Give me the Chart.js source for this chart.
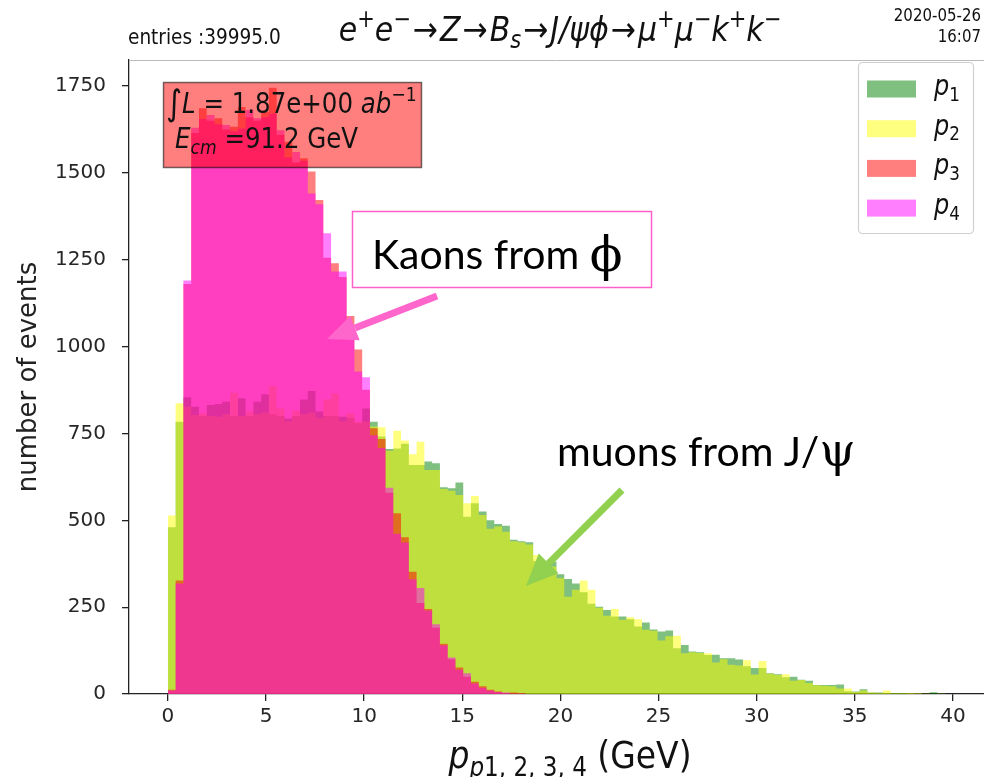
<!DOCTYPE html>
<html>
<head>
<meta charset="utf-8">
<title>Bs → J/ψ φ : impulsions</title>
<script src="https://cdn.jsdelivr.net/npm/chart.js@4.4.1/dist/chart.umd.min.js"></script>
<style>
  html, body { margin: 0; padding: 0; background: #fff; }
</style>
</head>
<body>
<canvas id="graphique" width="984" height="777"></canvas>
<script>
// ============================================================
//  Histogrammes p1..p4 (GeV) — 100 bins, largeur ~0.396 GeV
// ============================================================

/* ── Données ─────────────────────────────────────────────── */
const largeurBin = 0.396;

// muons (J/psi)
const p1 = [
  480, 784, 854, 827, 800, 832, 835, 841, 800, 851,
  800, 841, 863, 805, 800, 793, 800, 848, 872, 813,
  800, 800, 798, 795, 780, 822, 784, 741, 705, 707,
  720, 659, 659, 669, 664, 595, 592, 609, 510, 549,
  525, 500, 489, 484, 444, 440, 437, 383, 381, 381,
  345, 331, 318, 293, 260, 251, 242, 223, 223, 215,
  194, 206, 186, 180, 183, 132, 141, 122, 120, 112,
  113, 103, 103, 99, 80, 75, 75, 60, 57, 48,
  50, 41, 38, 26, 26, 26, 27, 8, 7, 14,
  4, 4, 3, 3, 3, 1, 1, 0, 5, 1
];
const p2 = [
  514, 837, 827, 803, 808, 800, 798, 805, 867, 800,
  813, 805, 810, 886, 822, 785, 815, 805, 810, 795,
  848, 865, 785, 808, 784, 784, 770, 768, 700, 758,
  730, 690, 726, 645, 645, 590, 585, 573, 549, 570,
  515, 476, 482, 467, 440, 437, 430, 400, 375, 367,
  333, 280, 300, 327, 300, 248, 225, 245, 214, 221,
  215, 185, 182, 154, 166, 168, 117, 120, 118, 117,
  91, 100, 84, 82, 97, 56, 95, 58, 55, 57,
  38, 40, 32, 25, 24, 22, 16, 16, 6, 10,
  4, 3, 10, 2, 2, 3, 2, 1, 0, 1
];
// kaons (phi)
const p3 = [
  12, 327, 1180, 1615, 1686, 1650, 1657, 1625, 1633, 1690,
  1660, 1650, 1676, 1745, 1610, 1590, 1530, 1542, 1504, 1422,
  1256, 1240, 1200, 1088, 992, 876, 765, 734, 579, 520,
  451, 352, 262, 245, 191, 145, 100, 76, 50, 35,
  22, 12, 7, 3, 4, 3, 0, 0, 0, 0,
  0, 0, 0, 0, 0, 0, 0, 0, 0, 0,
  0, 0, 0, 0, 0, 0, 0, 0, 0, 0,
  0, 0, 0, 0, 0, 0, 0, 0, 0, 0,
  0, 0, 0, 0, 0, 0, 0, 0, 0, 0,
  0, 0, 0, 0, 0, 0, 0, 0, 0, 0
];
const p4 = [
  10, 318, 1190, 1630, 1655, 1667, 1640, 1638, 1620, 1628,
  1681, 1657, 1660, 1670, 1623, 1545, 1560, 1535, 1441, 1410,
  1326, 1216, 1216, 1057, 928, 912, 745, 708, 594, 461,
  436, 330, 305, 240, 201, 140, 105, 70, 60, 30,
  18, 10, 6, 4, 1, 1, 0, 0, 0, 0,
  0, 0, 0, 0, 0, 0, 0, 0, 0, 0,
  0, 0, 0, 0, 0, 0, 0, 0, 0, 0,
  0, 0, 0, 0, 0, 0, 0, 0, 0, 0,
  0, 0, 0, 0, 0, 0, 0, 0, 0, 0,
  0, 0, 0, 0, 0, 0, 0, 0, 0, 0
];

const series   = [p1, p2, p3, p4];
const noms     = ['p1', 'p2', 'p3', 'p4'];
const couleurs = ['rgba(0,128,0,0.5)', 'rgba(255,255,0,0.5)', 'rgba(255,0,0,0.5)', 'rgba(255,0,255,0.5)'];

const xTicks = [0, 5, 10, 15, 20, 25, 30, 35, 40];
const yTicks = [0, 250, 500, 750, 1000, 1250, 1500, 1750];

const SY = 1.15;   // étirement vertical du texte (image d'origine étirée)
const POLICE = '"DejaVu Sans", sans-serif';

/* ── Histogramme -> points en marches ───────────────────── */
function enMarches(valeurs) {
    const pts = valeurs.map((v, i) => ({ x: i * largeurBin, y: v }));
    pts.push({ x: valeurs.length * largeurBin, y: 0 });
    return pts;
}

/* ── Texte "mathtext" : morceaux italiques / exposants ───── */
function texteRiche(ctx, morceaux, x, y, taille, align = 'left') {
    const fontDe = (m) => {
        const t = (m.sup || m.sub) ? taille * 0.7 : taille * (m.k || 1);
        return `${m.it ? 'italic ' : ''}${t}px ${POLICE}`;
    };
    let total = 0;
    const mesures = morceaux.map(m => {
        ctx.font = fontDe(m);
        const w = ctx.measureText(m.t).width + (m.gap || 0) * 2;
        total += w;
        return w;
    });
    let cx = align === 'center' ? x - total / 2 : align === 'right' ? x - total : x;
    ctx.save();
    ctx.textAlign = 'left';
    ctx.textBaseline = 'alphabetic';
    ctx.translate(0, y);
    ctx.scale(1, SY);
    morceaux.forEach((m, i) => {
        ctx.font = fontDe(m);
        const dy = m.sup ? -taille * 0.42 : m.sub ? taille * 0.2 : (m.dy || 0);
        ctx.fillText(m.t, cx + (m.gap || 0), dy);
        cx += mesures[i];
    });
    ctx.restore();
}

function fleche(ctx, x1, y1, x2, y2, couleur, ep, long, larg) {
    const a = Math.atan2(y2 - y1, x2 - x1);
    const bx = x2 - long * Math.cos(a), by = y2 - long * Math.sin(a);
    ctx.save();
    ctx.strokeStyle = couleur;
    ctx.fillStyle = couleur;
    ctx.lineWidth = ep;
    ctx.beginPath();
    ctx.moveTo(x1, y1);
    ctx.lineTo(bx, by);
    ctx.stroke();
    ctx.beginPath();
    ctx.moveTo(x2, y2);
    ctx.lineTo(bx + larg / 2 * Math.sin(a), by - larg / 2 * Math.cos(a));
    ctx.lineTo(bx - larg / 2 * Math.sin(a), by + larg / 2 * Math.cos(a));
    ctx.closePath();
    ctx.fill();
    ctx.restore();
}

/* ── Plugin : titres, encadrés, légende, annotations ─────── */
const decor = {
    id: 'decor',
    afterDraw(chart) {
        const ctx = chart.ctx;
        const ca = chart.chartArea;
        ctx.save();
        ctx.fillStyle = '#111';

        // cadre haut
        ctx.strokeStyle = '#bbb';
        ctx.lineWidth = 1;
        ctx.beginPath();
        ctx.moveTo(ca.left, ca.top + 0.5);
        ctx.lineTo(ca.right, ca.top + 0.5);
        ctx.stroke();

        // en-tête
        texteRiche(ctx, [{ t: 'entries :39995.0' }], 128, 44, 18.5);
        texteRiche(ctx, [{ t: '2020-05-26' }], 981, 21, 15, 'right');
        texteRiche(ctx, [{ t: '16:07' }], 981, 42, 15, 'right');
        const fl = { t: '→', gap: 2 };
        texteRiche(ctx, [
            { t: 'e', it: 1 }, { t: '+', sup: 1 }, { t: 'e', it: 1 }, { t: '−', sup: 1 },
            fl, { t: 'Z', it: 1 }, fl, { t: 'B', it: 1 }, { t: 's', it: 1, sub: 1 },
            fl, { t: 'J/ψϕ', it: 1 }, fl,
            { t: 'μ', it: 1 }, { t: '+', sup: 1 }, { t: 'μ', it: 1 }, { t: '−', sup: 1 },
            { t: 'k', it: 1 }, { t: '+', sup: 1 }, { t: 'k', it: 1 }, { t: '−', sup: 1 }
        ], 560, 41, 30, 'center');

        // titre axe x
        texteRiche(ctx, [
            { t: 'p', it: 1 }, { t: 'p', it: 1, sub: 1 }, { t: '1, 2, 3, 4', sub: 1 }, { t: ' (GeV)' }
        ], 570, 768, 33, 'center');

        // encadré luminosité
        ctx.fillStyle = 'rgba(255,0,0,0.5)';
        ctx.strokeStyle = 'rgba(0,0,0,0.55)';
        ctx.lineWidth = 1.5;
        ctx.fillRect(163.5, 82.5, 258, 85);
        ctx.strokeRect(163.5, 82.5, 258, 85);
        ctx.fillStyle = '#111';
        texteRiche(ctx, [
            { t: '∫', k: 1.25, dy: 2 }, { t: 'L', it: 1 }, { t: ' = 1.87e+00 ' }, { t: 'ab', it: 1 }, { t: '−1', sup: 1 }
        ], 166, 113, 24.5);
        texteRiche(ctx, [
            { t: 'E', it: 1 }, { t: 'cm', it: 1, sub: 1 }, { t: ' =91.2 GeV' }
        ], 175, 148, 24.5);

        // légende
        ctx.fillStyle = 'rgba(255,255,255,0.85)';
        ctx.strokeStyle = '#d0d0d0';
        ctx.lineWidth = 1.2;
        ctx.beginPath();
        ctx.roundRect(858.5, 62.5, 115, 171, 4);
        ctx.fill();
        ctx.stroke();
        chart.data.datasets.forEach((ds, i) => {
            const yc = 89 + i * 39.7;
            ctx.fillStyle = '#fff';
            ctx.fillRect(867, yc - 8.5, 49, 17);
            ctx.fillStyle = ds.backgroundColor;
            ctx.fillRect(867, yc - 8.5, 49, 17);
            ctx.fillStyle = '#111';
            texteRiche(ctx, [{ t: 'p', it: 1 }, { t: ds.label.slice(1), sub: 1 }], 934, yc + 6, 24);
        });

        // annotations
        ctx.fillStyle = '#fff';
        ctx.strokeStyle = '#ff5fc8';
        ctx.lineWidth = 1.5;
        ctx.fillRect(352.5, 211.5, 299, 76);
        ctx.strokeRect(352.5, 211.5, 299, 76);
        ctx.fillStyle = '#000';
        ctx.textAlign = 'left';
        ctx.textBaseline = 'alphabetic';
        ctx.font = '41px Lato, "Open Sans", sans-serif';
        ctx.fillText('Kaons from ', 372, 269);
        let w = ctx.measureText('Kaons from ').width;
        ctx.font = '48px "DejaVu Serif", serif';
        ctx.fillText('ϕ', 372 + w, 271);

        ctx.font = '41px Lato, "Open Sans", sans-serif';
        ctx.fillText('muons from J/', 557, 466);
        w = ctx.measureText('muons from J/').width;
        ctx.font = '46px "DejaVu Serif", serif';
        ctx.fillText('ψ', 557 + w, 466);

        fleche(ctx, 437, 296, 327, 339, '#ff66cc', 7, 30, 26);
        fleche(ctx, 622, 490, 526, 586, '#92d050', 7, 32, 28);

        ctx.restore();
    }
};

/* ── Graphique ───────────────────────────────────────────── */
const datasets = series.map((valeurs, i) => ({
    label: noms[i],
    data: enMarches(valeurs),
    stepped: true,
    fill: 'origin',
    backgroundColor: couleurs[i],
    borderColor: 'rgba(0,0,0,0)',
    borderWidth: 1,
    pointRadius: 0,
    pointHoverRadius: 0,
    order: 4 - i          // p1 dessous, p4 dessus
}));

new Chart(document.getElementById('graphique'), {
    type: 'line',
    data: { datasets },
    options: {
        responsive: false,
        animation: false,
        layout: { padding: { top: 60, left: 0, right: 0, bottom: 0 } },
        plugins: {
            legend: { display: false },
            tooltip: { enabled: false },
            title: { display: false }
        },
        scales: {
            x: {
                type: 'linear',
                min: -1.98,
                max: 41.58,
                afterBuildTicks: s => { s.ticks = xTicks.map(v => ({ value: v })); },
                afterFit: s => { s.height = 83; },
                grid: { drawOnChartArea: false, tickLength: 7, color: '#222', lineWidth: 1.3 },
                border: { color: '#222', width: 1.3 },
                ticks: {
                    autoSkip: false, maxRotation: 0, padding: 4, color: '#262626',
                    font: { family: 'DejaVu Sans', size: 20 },
                    callback: v => String(v)
                }
            },
            y: {
                min: 0,
                max: 1825,
                afterBuildTicks: s => { s.ticks = yTicks.map(v => ({ value: v })); },
                afterFit: s => { s.width = 129; },
                grid: { drawOnChartArea: false, tickLength: 7, color: '#222', lineWidth: 1.3 },
                border: { color: '#222', width: 1.3 },
                ticks: {
                    padding: 16, color: '#262626',
                    font: { family: 'DejaVu Sans', size: 20 },
                    callback: v => String(v)
                },
                title: {
                    display: true, text: 'number of events', color: '#222',
                    font: { family: 'DejaVu Sans', size: 26 },
                    padding: { top: 14, bottom: 0 }
                }
            }
        }
    },
    plugins: [decor]
});
</script>
</body>
</html>
